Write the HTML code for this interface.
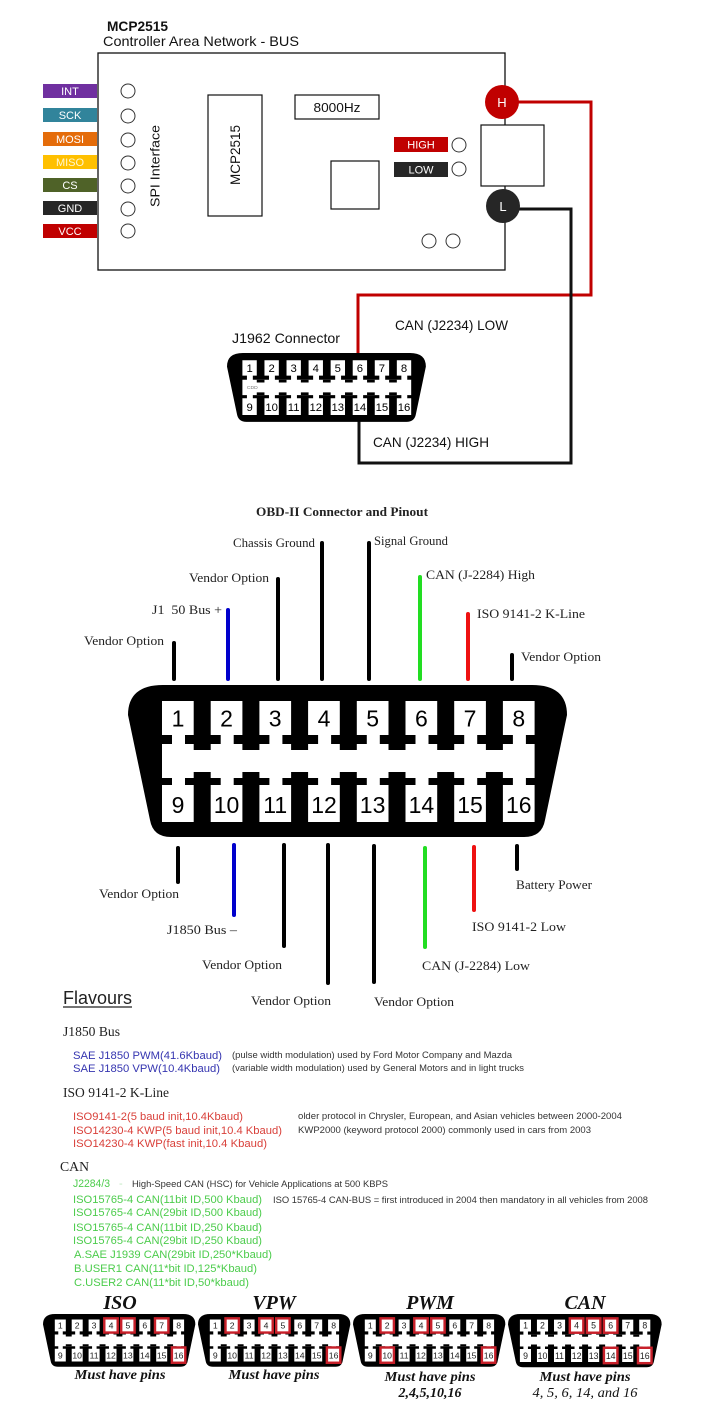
<!DOCTYPE html>
<html><head><meta charset="utf-8">
<style>html,body{margin:0;padding:0;background:#fff}svg{display:block}</style>
</head><body>
<svg xmlns="http://www.w3.org/2000/svg" width="702" height="1418" viewBox="0 0 702 1418" font-family="Liberation Sans, Arial, sans-serif">
<rect width="702" height="1418" fill="#fff"/>

<!-- ===== TOP MODULE ===== -->
<text x="107" y="31" font-size="14" font-weight="bold" fill="#111" textLength="61" lengthAdjust="spacingAndGlyphs">MCP2515</text>
<text x="103" y="46" font-size="14" fill="#111" textLength="196" lengthAdjust="spacingAndGlyphs">Controller Area Network - BUS</text>
<rect x="98" y="53" width="407" height="217" fill="none" stroke="#111" stroke-width="1.3"/>

<g font-size="11" fill="#fff" text-anchor="middle">
<rect x="43" y="84" width="54" height="14" fill="#7030a0"/><text x="70" y="95">INT</text>
<rect x="43" y="108" width="54" height="14" fill="#31849b"/><text x="70" y="119">SCK</text>
<rect x="43" y="132" width="54" height="14" fill="#e46c0a"/><text x="70" y="143">MOSI</text>
<rect x="43" y="155" width="54" height="14" fill="#ffc000"/><text x="70" y="166" fill="#fff6d0">MISO</text>
<rect x="43" y="178" width="54" height="14" fill="#4f6228"/><text x="70" y="189">CS</text>
<rect x="43" y="201" width="54" height="14" fill="#262626"/><text x="70" y="212">GND</text>
<rect x="43" y="224" width="54" height="14" fill="#c00000"/><text x="70" y="235">VCC</text>
</g>
<g fill="none" stroke="#333" stroke-width="1">
<circle cx="128" cy="91" r="7"/><circle cx="128" cy="116" r="7"/><circle cx="128" cy="140" r="7"/>
<circle cx="128" cy="163" r="7"/><circle cx="128" cy="186" r="7"/><circle cx="128" cy="209" r="7"/>
<circle cx="128" cy="231" r="7"/>
</g>
<text transform="translate(159.5,166) rotate(-90)" text-anchor="middle" font-size="13" fill="#111" textLength="82" lengthAdjust="spacingAndGlyphs">SPI Interface</text>

<rect x="208" y="95" width="54" height="121" fill="none" stroke="#111" stroke-width="1.2"/>
<text transform="translate(240,155) rotate(-90)" text-anchor="middle" font-size="14" fill="#111" textLength="60" lengthAdjust="spacingAndGlyphs">MCP2515</text>

<rect x="295" y="95" width="84" height="24" fill="none" stroke="#111" stroke-width="1.2"/>
<text x="337" y="112" text-anchor="middle" font-size="13" fill="#111" textLength="47" lengthAdjust="spacingAndGlyphs">8000Hz</text>
<rect x="331" y="161" width="48" height="48" fill="none" stroke="#111" stroke-width="1.2"/>

<rect x="394" y="137" width="54" height="15" fill="#c00000"/>
<text x="421" y="148.5" text-anchor="middle" font-size="11" fill="#fff">HIGH</text>
<rect x="394" y="162" width="54" height="15" fill="#262626"/>
<text x="421" y="173.5" text-anchor="middle" font-size="11" fill="#fff">LOW</text>
<circle cx="459" cy="145" r="7" fill="none" stroke="#333"/>
<circle cx="459" cy="169" r="7" fill="none" stroke="#333"/>
<circle cx="429" cy="241" r="7" fill="none" stroke="#333"/>
<circle cx="453" cy="241" r="7" fill="none" stroke="#333"/>

<rect x="481" y="125" width="63" height="61" fill="#fff" stroke="#111" stroke-width="1.2"/>

<!-- wires -->
<polyline points="515,102 591,102 591,295 358,295 358,354" fill="none" stroke="#c00000" stroke-width="3"/>
<polyline points="515,209 571,209 571,463 359,463 359,421" fill="none" stroke="#111" stroke-width="3"/>

<circle cx="502" cy="102" r="17" fill="#c00000"/>
<text x="502" y="107" text-anchor="middle" font-size="13" fill="#fff">H</text>
<circle cx="503" cy="206" r="17" fill="#262626"/>
<text x="503" y="211" text-anchor="middle" font-size="13" fill="#fff">L</text>

<!-- J1962 connector -->
<text x="232" y="343" font-size="14" fill="#111" textLength="108" lengthAdjust="spacingAndGlyphs">J1962 Connector</text>
<text x="395" y="330" font-size="14" fill="#111" textLength="113" lengthAdjust="spacingAndGlyphs">CAN (J2234) LOW</text>
<text x="373" y="447" font-size="14" fill="#111" textLength="116" lengthAdjust="spacingAndGlyphs">CAN (J2234) HIGH</text>

<g transform="translate(227,353) scale(0.453)">
<path d="M35 0H404Q439 0 439 30L417 135Q414 152 396 152H43Q25 152 22 135L0 30Q0 0 35 0Z" fill="#000"/>
<path fill="#fff" d="M34 16h31.7v34h-31.7zM82.7 16h31.7v34h-31.7zM131.4 16h31.7v34h-31.7zM180.1 16h31.7v34h-31.7zM228.8 16h31.7v34h-31.7zM277.5 16h31.7v34h-31.7zM326.2 16h31.7v34h-31.7zM374.9 16h31.7v34h-31.7zM44 50h13v9h-13zM92.7 50h13v9h-13zM141.4 50h13v9h-13zM190.1 50h13v9h-13zM238.8 50h13v9h-13zM287.5 50h13v9h-13zM336.2 50h13v9h-13zM384.9 50h13v9h-13zM34 59h372.6v34h-372.6zM44 93h13v7h-13zM92.7 93h13v7h-13zM141.4 93h13v7h-13zM190.1 93h13v7h-13zM238.8 93h13v7h-13zM287.5 93h13v7h-13zM336.2 93h13v7h-13zM384.9 93h13v7h-13zM34 100h31.7v37h-31.7zM82.7 100h31.7v37h-31.7zM131.4 100h31.7v37h-31.7zM180.1 100h31.7v37h-31.7zM228.8 100h31.7v37h-31.7zM277.5 100h31.7v37h-31.7zM326.2 100h31.7v37h-31.7zM374.9 100h31.7v37h-31.7z"/>
<path fill="#000" d="M65.7 59h17v6h-17zM114.4 59h17v6h-17zM163.1 59h17v6h-17zM211.8 59h17v6h-17zM260.5 59h17v6h-17zM309.2 59h17v6h-17zM357.9 59h17v6h-17zM65.7 87h17v6h-17zM114.4 87h17v6h-17zM163.1 87h17v6h-17zM211.8 87h17v6h-17zM260.5 87h17v6h-17zM309.2 87h17v6h-17zM357.9 87h17v6h-17z"/>
<text font-size="25" text-anchor="middle" fill="#000" y="42"><tspan x="50">1</tspan><tspan x="98.5">2</tspan><tspan x="147.2">3</tspan><tspan x="196">4</tspan><tspan x="244.6">5</tspan><tspan x="293.4">6</tspan><tspan x="342">7</tspan><tspan x="390.8">8</tspan></text>
<text font-size="25" text-anchor="middle" fill="#000" y="128"><tspan x="50">9</tspan><tspan x="98.5">10</tspan><tspan x="147.2">11</tspan><tspan x="196">12</tspan><tspan x="244.6">13</tspan><tspan x="293.4">14</tspan><tspan x="342">15</tspan><tspan x="390.8">16</tspan></text>
<text x="44" y="80" font-size="11" fill="#777">CDD</text>
</g>

<!-- ===== OBD-II PINOUT ===== -->
<g font-family="Liberation Serif, Times New Roman, serif" fill="#222" font-size="13">
<text x="256" y="516" font-weight="bold" textLength="172" lengthAdjust="spacingAndGlyphs">OBD-II Connector and Pinout</text>
<text x="84" y="645" textLength="80" lengthAdjust="spacingAndGlyphs">Vendor Option</text>
<text x="152" y="614" textLength="70" lengthAdjust="spacingAndGlyphs">J1&#160; 50 Bus +</text>
<text x="189" y="582" textLength="80" lengthAdjust="spacingAndGlyphs">Vendor Option</text>
<text x="233" y="547" textLength="82" lengthAdjust="spacingAndGlyphs">Chassis Ground</text>
<text x="374" y="545" textLength="74" lengthAdjust="spacingAndGlyphs">Signal Ground</text>
<text x="426" y="579" textLength="109" lengthAdjust="spacingAndGlyphs">CAN (J-2284) High</text>
<text x="477" y="618" textLength="108" lengthAdjust="spacingAndGlyphs">ISO 9141-2 K-Line</text>
<text x="521" y="661" textLength="80" lengthAdjust="spacingAndGlyphs">Vendor Option</text>

<text x="99" y="898" textLength="80" lengthAdjust="spacingAndGlyphs">Vendor Option</text>
<text x="167" y="934" textLength="70" lengthAdjust="spacingAndGlyphs">J1850 Bus –</text>
<text x="202" y="969" textLength="80" lengthAdjust="spacingAndGlyphs">Vendor Option</text>
<text x="251" y="1005" textLength="80" lengthAdjust="spacingAndGlyphs">Vendor Option</text>
<text x="374" y="1006" textLength="80" lengthAdjust="spacingAndGlyphs">Vendor Option</text>
<text x="422" y="970" textLength="108" lengthAdjust="spacingAndGlyphs">CAN (J-2284) Low</text>
<text x="472" y="931" textLength="94" lengthAdjust="spacingAndGlyphs">ISO 9141-2 Low</text>
<text x="516" y="889" textLength="76" lengthAdjust="spacingAndGlyphs">Battery Power</text>
</g>

<g stroke-width="4" stroke-linecap="round" fill="none">
<line x1="174" y1="643" x2="174" y2="679" stroke="#000"/>
<line x1="228" y1="610" x2="228" y2="679" stroke="#0000cc"/>
<line x1="278" y1="579" x2="278" y2="679" stroke="#000"/>
<line x1="322" y1="543" x2="322" y2="679" stroke="#000"/>
<line x1="369" y1="543" x2="369" y2="679" stroke="#000"/>
<line x1="420" y1="577" x2="420" y2="679" stroke="#22dd22"/>
<line x1="468" y1="614" x2="468" y2="679" stroke="#ee1111"/>
<line x1="512" y1="655" x2="512" y2="679" stroke="#000"/>

<line x1="178" y1="848" x2="178" y2="882" stroke="#000"/>
<line x1="234" y1="845" x2="234" y2="915" stroke="#0000cc"/>
<line x1="284" y1="845" x2="284" y2="946" stroke="#000"/>
<line x1="328" y1="845" x2="328" y2="983" stroke="#000"/>
<line x1="374" y1="846" x2="374" y2="982" stroke="#000"/>
<line x1="425" y1="848" x2="425" y2="947" stroke="#22dd22"/>
<line x1="474" y1="847" x2="474" y2="910" stroke="#ee1111"/>
<line x1="517" y1="846" x2="517" y2="869" stroke="#000"/>
</g>

<g transform="translate(128,685)">
<path d="M35 0H404Q439 0 439 30L417 135Q414 152 396 152H43Q25 152 22 135L0 30Q0 0 35 0Z" fill="#000"/>
<path fill="#fff" d="M34 16h31.7v34h-31.7zM82.7 16h31.7v34h-31.7zM131.4 16h31.7v34h-31.7zM180.1 16h31.7v34h-31.7zM228.8 16h31.7v34h-31.7zM277.5 16h31.7v34h-31.7zM326.2 16h31.7v34h-31.7zM374.9 16h31.7v34h-31.7zM44 50h13v9h-13zM92.7 50h13v9h-13zM141.4 50h13v9h-13zM190.1 50h13v9h-13zM238.8 50h13v9h-13zM287.5 50h13v9h-13zM336.2 50h13v9h-13zM384.9 50h13v9h-13zM34 59h372.6v34h-372.6zM44 93h13v7h-13zM92.7 93h13v7h-13zM141.4 93h13v7h-13zM190.1 93h13v7h-13zM238.8 93h13v7h-13zM287.5 93h13v7h-13zM336.2 93h13v7h-13zM384.9 93h13v7h-13zM34 100h31.7v37h-31.7zM82.7 100h31.7v37h-31.7zM131.4 100h31.7v37h-31.7zM180.1 100h31.7v37h-31.7zM228.8 100h31.7v37h-31.7zM277.5 100h31.7v37h-31.7zM326.2 100h31.7v37h-31.7zM374.9 100h31.7v37h-31.7z"/>
<path fill="#000" d="M65.7 59h17v6h-17zM114.4 59h17v6h-17zM163.1 59h17v6h-17zM211.8 59h17v6h-17zM260.5 59h17v6h-17zM309.2 59h17v6h-17zM357.9 59h17v6h-17zM65.7 87h17v6h-17zM114.4 87h17v6h-17zM163.1 87h17v6h-17zM211.8 87h17v6h-17zM260.5 87h17v6h-17zM309.2 87h17v6h-17zM357.9 87h17v6h-17z"/>
<text font-size="23" text-anchor="middle" fill="#000" y="41.5"><tspan x="50">1</tspan><tspan x="98.5">2</tspan><tspan x="147.2">3</tspan><tspan x="196">4</tspan><tspan x="244.6">5</tspan><tspan x="293.4">6</tspan><tspan x="342">7</tspan><tspan x="390.8">8</tspan></text>
<text font-size="23" text-anchor="middle" fill="#000" y="128"><tspan x="50">9</tspan><tspan x="98.5">10</tspan><tspan x="147.2">11</tspan><tspan x="196">12</tspan><tspan x="244.6">13</tspan><tspan x="293.4">14</tspan><tspan x="342">15</tspan><tspan x="390.8">16</tspan></text>
</g>

<!-- ===== FLAVOURS ===== -->
<text x="63" y="1004" font-size="18" fill="#222" textLength="69" lengthAdjust="spacingAndGlyphs">Flavours</text>
<line x1="63" y1="1007" x2="132" y2="1007" stroke="#222" stroke-width="1.3"/>

<g font-family="Liberation Serif, Times New Roman, serif" fill="#222" font-size="13.5">
<text x="63" y="1036" textLength="57" lengthAdjust="spacingAndGlyphs">J1850 Bus</text>
<text x="63" y="1097" textLength="106" lengthAdjust="spacingAndGlyphs">ISO 9141-2 K-Line</text>
<text x="60" y="1171" textLength="29" lengthAdjust="spacingAndGlyphs">CAN</text>
</g>

<g font-size="11" fill="#3535b0">
<text x="73" y="1059" textLength="149" lengthAdjust="spacingAndGlyphs">SAE J1850 PWM(41.6Kbaud)</text>
<text x="73" y="1072" textLength="147" lengthAdjust="spacingAndGlyphs">SAE J1850 VPW(10.4Kbaud)</text>
</g>
<g font-size="9" fill="#333">
<text x="232" y="1058" textLength="280" lengthAdjust="spacingAndGlyphs">(pulse width modulation)  used by Ford Motor Company and Mazda</text>
<text x="232" y="1071" textLength="292" lengthAdjust="spacingAndGlyphs">(variable width modulation) used by General Motors and in light trucks</text>
<text x="298" y="1119" textLength="324" lengthAdjust="spacingAndGlyphs">older protocol in Chrysler, European, and Asian vehicles between 2000-2004</text>
<text x="298" y="1133" textLength="293" lengthAdjust="spacingAndGlyphs">KWP2000 (keyword protocol 2000) commonly used in cars from 2003</text>
<text x="132" y="1187" textLength="256" lengthAdjust="spacingAndGlyphs">High-Speed CAN (HSC) for Vehicle Applications at 500 KBPS</text>
<text x="273" y="1203" textLength="375" lengthAdjust="spacingAndGlyphs">ISO 15765-4 CAN-BUS = first introduced in 2004 then mandatory in all vehicles from 2008</text>
</g>
<g font-size="11" fill="#d9403a">
<text x="73" y="1120" textLength="170" lengthAdjust="spacingAndGlyphs">ISO9141-2(5 baud init,10.4Kbaud)</text>
<text x="73" y="1134" textLength="209" lengthAdjust="spacingAndGlyphs">ISO14230-4 KWP(5 baud init,10.4 Kbaud)</text>
<text x="73" y="1147" textLength="194" lengthAdjust="spacingAndGlyphs">ISO14230-4 KWP(fast init,10.4 Kbaud)</text>
</g>
<g font-size="11" fill="#4ccc4c">
<text x="73" y="1187" textLength="37" lengthAdjust="spacingAndGlyphs">J2284/3</text>
<text x="119" y="1187" fill="#bfe9bf">-</text>
<text x="73" y="1203" textLength="189" lengthAdjust="spacingAndGlyphs">ISO15765-4 CAN(11bit ID,500 Kbaud)</text>
<text x="73" y="1216" textLength="189" lengthAdjust="spacingAndGlyphs">ISO15765-4 CAN(29bit ID,500 Kbaud)</text>
<text x="73" y="1231" textLength="189" lengthAdjust="spacingAndGlyphs">ISO15765-4 CAN(11bit ID,250 Kbaud)</text>
<text x="73" y="1244" textLength="189" lengthAdjust="spacingAndGlyphs">ISO15765-4 CAN(29bit ID,250 Kbaud)</text>
<text x="74" y="1258" textLength="198" lengthAdjust="spacingAndGlyphs">A.SAE J1939 CAN(29bit ID,250*Kbaud)</text>
<text x="74" y="1272" textLength="183" lengthAdjust="spacingAndGlyphs">B.USER1 CAN(11*bit ID,125*Kbaud)</text>
<text x="74" y="1286" textLength="175" lengthAdjust="spacingAndGlyphs">C.USER2 CAN(11*bit ID,50*kbaud)</text>
</g>

<!-- ===== SMALL CONNECTORS ===== -->
<g font-family="Liberation Serif, Times New Roman, serif" font-weight="bold" font-style="italic" fill="#111" text-anchor="middle">
<text x="120" y="1309" font-size="20">ISO</text>
<text x="274" y="1309" font-size="20">VPW</text>
<text x="430" y="1309" font-size="20">PWM</text>
<text x="585" y="1309" font-size="20">CAN</text>
<text x="120" y="1379" font-size="14" textLength="91" lengthAdjust="spacingAndGlyphs">Must have pins</text>
<text x="274" y="1379" font-size="14" textLength="91" lengthAdjust="spacingAndGlyphs">Must have pins</text>
<text x="430" y="1381" font-size="14" textLength="91" lengthAdjust="spacingAndGlyphs">Must have pins</text>
<text x="585" y="1381" font-size="14" textLength="91" lengthAdjust="spacingAndGlyphs">Must have pins</text>
<text x="430" y="1397" font-size="14">2,4,5,10,16</text>
<text x="585" y="1397" font-size="14" font-weight="normal" textLength="105" lengthAdjust="spacingAndGlyphs">4, 5, 6, 14, and 16</text>
</g>

<!-- ISO -->
<g transform="translate(43,1314) scale(0.347)">
<path d="M35 0H404Q439 0 439 30L417 135Q414 152 396 152H43Q25 152 22 135L0 30Q0 0 35 0Z" fill="#000"/>
<path fill="#fff" d="M34 16h31.7v34h-31.7zM82.7 16h31.7v34h-31.7zM131.4 16h31.7v34h-31.7zM180.1 16h31.7v34h-31.7zM228.8 16h31.7v34h-31.7zM277.5 16h31.7v34h-31.7zM326.2 16h31.7v34h-31.7zM374.9 16h31.7v34h-31.7zM44 50h13v9h-13zM92.7 50h13v9h-13zM141.4 50h13v9h-13zM190.1 50h13v9h-13zM238.8 50h13v9h-13zM287.5 50h13v9h-13zM336.2 50h13v9h-13zM384.9 50h13v9h-13zM34 59h372.6v34h-372.6zM44 93h13v7h-13zM92.7 93h13v7h-13zM141.4 93h13v7h-13zM190.1 93h13v7h-13zM238.8 93h13v7h-13zM287.5 93h13v7h-13zM336.2 93h13v7h-13zM384.9 93h13v7h-13zM34 100h31.7v37h-31.7zM82.7 100h31.7v37h-31.7zM131.4 100h31.7v37h-31.7zM180.1 100h31.7v37h-31.7zM228.8 100h31.7v37h-31.7zM277.5 100h31.7v37h-31.7zM326.2 100h31.7v37h-31.7zM374.9 100h31.7v37h-31.7z"/>
<path fill="#000" d="M65.7 59h17v6h-17zM114.4 59h17v6h-17zM163.1 59h17v6h-17zM211.8 59h17v6h-17zM260.5 59h17v6h-17zM309.2 59h17v6h-17zM357.9 59h17v6h-17zM65.7 87h17v6h-17zM114.4 87h17v6h-17zM163.1 87h17v6h-17zM211.8 87h17v6h-17zM260.5 87h17v6h-17zM309.2 87h17v6h-17zM357.9 87h17v6h-17z"/>
<g fill="#fff" stroke="#c8202a" stroke-width="7">
<rect x="176.6" y="12.5" width="38.7" height="41"/><rect x="225.3" y="12.5" width="38.7" height="41"/><rect x="322.7" y="12.5" width="38.7" height="41"/><rect x="371.4" y="96.5" width="38.7" height="44"/>
</g>
<text font-size="25" text-anchor="middle" fill="#222" y="42"><tspan x="50">1</tspan><tspan x="98.5">2</tspan><tspan x="147.2">3</tspan><tspan x="196">4</tspan><tspan x="244.6">5</tspan><tspan x="293.4">6</tspan><tspan x="342">7</tspan><tspan x="390.8">8</tspan></text>
<text font-size="25" text-anchor="middle" fill="#222" y="128"><tspan x="50">9</tspan><tspan x="98.5">10</tspan><tspan x="147.2">11</tspan><tspan x="196">12</tspan><tspan x="244.6">13</tspan><tspan x="293.4">14</tspan><tspan x="342">15</tspan><tspan x="390.8">16</tspan></text>
</g>

<!-- VPW -->
<g transform="translate(198,1314) scale(0.347)">
<path d="M35 0H404Q439 0 439 30L417 135Q414 152 396 152H43Q25 152 22 135L0 30Q0 0 35 0Z" fill="#000"/>
<path fill="#fff" d="M34 16h31.7v34h-31.7zM82.7 16h31.7v34h-31.7zM131.4 16h31.7v34h-31.7zM180.1 16h31.7v34h-31.7zM228.8 16h31.7v34h-31.7zM277.5 16h31.7v34h-31.7zM326.2 16h31.7v34h-31.7zM374.9 16h31.7v34h-31.7zM44 50h13v9h-13zM92.7 50h13v9h-13zM141.4 50h13v9h-13zM190.1 50h13v9h-13zM238.8 50h13v9h-13zM287.5 50h13v9h-13zM336.2 50h13v9h-13zM384.9 50h13v9h-13zM34 59h372.6v34h-372.6zM44 93h13v7h-13zM92.7 93h13v7h-13zM141.4 93h13v7h-13zM190.1 93h13v7h-13zM238.8 93h13v7h-13zM287.5 93h13v7h-13zM336.2 93h13v7h-13zM384.9 93h13v7h-13zM34 100h31.7v37h-31.7zM82.7 100h31.7v37h-31.7zM131.4 100h31.7v37h-31.7zM180.1 100h31.7v37h-31.7zM228.8 100h31.7v37h-31.7zM277.5 100h31.7v37h-31.7zM326.2 100h31.7v37h-31.7zM374.9 100h31.7v37h-31.7z"/>
<path fill="#000" d="M65.7 59h17v6h-17zM114.4 59h17v6h-17zM163.1 59h17v6h-17zM211.8 59h17v6h-17zM260.5 59h17v6h-17zM309.2 59h17v6h-17zM357.9 59h17v6h-17zM65.7 87h17v6h-17zM114.4 87h17v6h-17zM163.1 87h17v6h-17zM211.8 87h17v6h-17zM260.5 87h17v6h-17zM309.2 87h17v6h-17zM357.9 87h17v6h-17z"/>
<g fill="#fff" stroke="#c8202a" stroke-width="7">
<rect x="79.2" y="12.5" width="38.7" height="41"/><rect x="176.6" y="12.5" width="38.7" height="41"/><rect x="225.3" y="12.5" width="38.7" height="41"/><rect x="371.4" y="96.5" width="38.7" height="44"/>
</g>
<text font-size="25" text-anchor="middle" fill="#222" y="42"><tspan x="50">1</tspan><tspan x="98.5">2</tspan><tspan x="147.2">3</tspan><tspan x="196">4</tspan><tspan x="244.6">5</tspan><tspan x="293.4">6</tspan><tspan x="342">7</tspan><tspan x="390.8">8</tspan></text>
<text font-size="25" text-anchor="middle" fill="#222" y="128"><tspan x="50">9</tspan><tspan x="98.5">10</tspan><tspan x="147.2">11</tspan><tspan x="196">12</tspan><tspan x="244.6">13</tspan><tspan x="293.4">14</tspan><tspan x="342">15</tspan><tspan x="390.8">16</tspan></text>
</g>

<!-- PWM -->
<g transform="translate(353,1314) scale(0.347)">
<path d="M35 0H404Q439 0 439 30L417 135Q414 152 396 152H43Q25 152 22 135L0 30Q0 0 35 0Z" fill="#000"/>
<path fill="#fff" d="M34 16h31.7v34h-31.7zM82.7 16h31.7v34h-31.7zM131.4 16h31.7v34h-31.7zM180.1 16h31.7v34h-31.7zM228.8 16h31.7v34h-31.7zM277.5 16h31.7v34h-31.7zM326.2 16h31.7v34h-31.7zM374.9 16h31.7v34h-31.7zM44 50h13v9h-13zM92.7 50h13v9h-13zM141.4 50h13v9h-13zM190.1 50h13v9h-13zM238.8 50h13v9h-13zM287.5 50h13v9h-13zM336.2 50h13v9h-13zM384.9 50h13v9h-13zM34 59h372.6v34h-372.6zM44 93h13v7h-13zM92.7 93h13v7h-13zM141.4 93h13v7h-13zM190.1 93h13v7h-13zM238.8 93h13v7h-13zM287.5 93h13v7h-13zM336.2 93h13v7h-13zM384.9 93h13v7h-13zM34 100h31.7v37h-31.7zM82.7 100h31.7v37h-31.7zM131.4 100h31.7v37h-31.7zM180.1 100h31.7v37h-31.7zM228.8 100h31.7v37h-31.7zM277.5 100h31.7v37h-31.7zM326.2 100h31.7v37h-31.7zM374.9 100h31.7v37h-31.7z"/>
<path fill="#000" d="M65.7 59h17v6h-17zM114.4 59h17v6h-17zM163.1 59h17v6h-17zM211.8 59h17v6h-17zM260.5 59h17v6h-17zM309.2 59h17v6h-17zM357.9 59h17v6h-17zM65.7 87h17v6h-17zM114.4 87h17v6h-17zM163.1 87h17v6h-17zM211.8 87h17v6h-17zM260.5 87h17v6h-17zM309.2 87h17v6h-17zM357.9 87h17v6h-17z"/>
<g fill="#fff" stroke="#c8202a" stroke-width="7">
<rect x="79.2" y="12.5" width="38.7" height="41"/><rect x="176.6" y="12.5" width="38.7" height="41"/><rect x="225.3" y="12.5" width="38.7" height="41"/><rect x="79.2" y="96.5" width="38.7" height="44"/><rect x="371.4" y="96.5" width="38.7" height="44"/>
</g>
<text font-size="25" text-anchor="middle" fill="#222" y="42"><tspan x="50">1</tspan><tspan x="98.5">2</tspan><tspan x="147.2">3</tspan><tspan x="196">4</tspan><tspan x="244.6">5</tspan><tspan x="293.4">6</tspan><tspan x="342">7</tspan><tspan x="390.8">8</tspan></text>
<text font-size="25" text-anchor="middle" fill="#222" y="128"><tspan x="50">9</tspan><tspan x="98.5">10</tspan><tspan x="147.2">11</tspan><tspan x="196">12</tspan><tspan x="244.6">13</tspan><tspan x="293.4">14</tspan><tspan x="342">15</tspan><tspan x="390.8">16</tspan></text>
</g>

<!-- CAN -->
<g transform="translate(508,1314) scale(0.35)">
<path d="M35 0H404Q439 0 439 30L417 135Q414 152 396 152H43Q25 152 22 135L0 30Q0 0 35 0Z" fill="#000"/>
<path fill="#fff" d="M34 16h31.7v34h-31.7zM82.7 16h31.7v34h-31.7zM131.4 16h31.7v34h-31.7zM180.1 16h31.7v34h-31.7zM228.8 16h31.7v34h-31.7zM277.5 16h31.7v34h-31.7zM326.2 16h31.7v34h-31.7zM374.9 16h31.7v34h-31.7zM44 50h13v9h-13zM92.7 50h13v9h-13zM141.4 50h13v9h-13zM190.1 50h13v9h-13zM238.8 50h13v9h-13zM287.5 50h13v9h-13zM336.2 50h13v9h-13zM384.9 50h13v9h-13zM34 59h372.6v34h-372.6zM44 93h13v7h-13zM92.7 93h13v7h-13zM141.4 93h13v7h-13zM190.1 93h13v7h-13zM238.8 93h13v7h-13zM287.5 93h13v7h-13zM336.2 93h13v7h-13zM384.9 93h13v7h-13zM34 100h31.7v37h-31.7zM82.7 100h31.7v37h-31.7zM131.4 100h31.7v37h-31.7zM180.1 100h31.7v37h-31.7zM228.8 100h31.7v37h-31.7zM277.5 100h31.7v37h-31.7zM326.2 100h31.7v37h-31.7zM374.9 100h31.7v37h-31.7z"/>
<path fill="#000" d="M65.7 59h17v6h-17zM114.4 59h17v6h-17zM163.1 59h17v6h-17zM211.8 59h17v6h-17zM260.5 59h17v6h-17zM309.2 59h17v6h-17zM357.9 59h17v6h-17zM65.7 87h17v6h-17zM114.4 87h17v6h-17zM163.1 87h17v6h-17zM211.8 87h17v6h-17zM260.5 87h17v6h-17zM309.2 87h17v6h-17zM357.9 87h17v6h-17z"/>
<g fill="#fff" stroke="#c8202a" stroke-width="7">
<rect x="176.6" y="12.5" width="38.7" height="41"/><rect x="225.3" y="12.5" width="38.7" height="41"/><rect x="274" y="12.5" width="38.7" height="41"/><rect x="274" y="96.5" width="38.7" height="44"/><rect x="371.4" y="96.5" width="38.7" height="44"/>
</g>
<text font-size="25" text-anchor="middle" fill="#222" y="42"><tspan x="50">1</tspan><tspan x="98.5">2</tspan><tspan x="147.2">3</tspan><tspan x="196">4</tspan><tspan x="244.6">5</tspan><tspan x="293.4">6</tspan><tspan x="342">7</tspan><tspan x="390.8">8</tspan></text>
<text font-size="25" text-anchor="middle" fill="#222" y="128"><tspan x="50">9</tspan><tspan x="98.5">10</tspan><tspan x="147.2">11</tspan><tspan x="196">12</tspan><tspan x="244.6">13</tspan><tspan x="293.4">14</tspan><tspan x="342">15</tspan><tspan x="390.8">16</tspan></text>
</g>

</svg>
</body></html>
